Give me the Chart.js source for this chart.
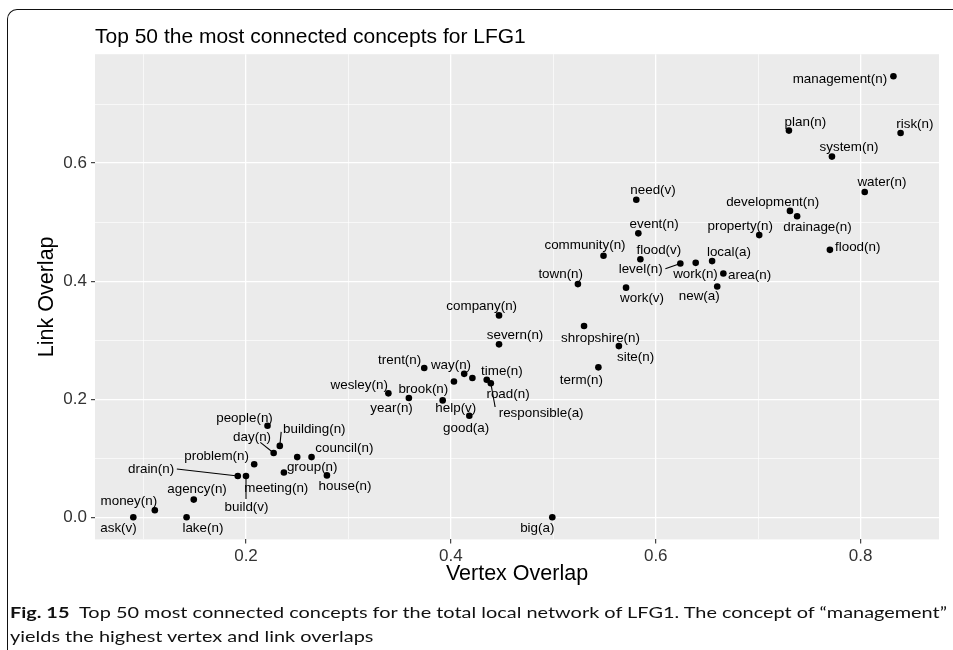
<!DOCTYPE html>
<html><head><meta charset="utf-8">
<script src="https://cdn.jsdelivr.net/npm/chart.js@4.4.1/dist/chart.umd.min.js"></script>
<style>
html,body{margin:0;padding:0;background:#fff;width:953px;height:650px;overflow:hidden;}
#frame{position:absolute;left:7px;top:9px;width:990px;height:700px;border-left:1.6px solid #111;border-top:1.6px solid #111;border-top-left-radius:10px;box-sizing:border-box;}
#wrap{position:absolute;left:0;top:0;width:953px;height:650px;}
.cap{position:absolute;left:10px;white-space:nowrap;font-family:'Lato','Open Sans',sans-serif;font-size:16px;line-height:20px;color:#111;transform-origin:0 50%;}
</style></head><body>
<div id="frame"></div>
<div id="wrap"><canvas id="c" width="953" height="650"></canvas></div>
<div class="cap" id="cap1" style="top:602px"><b>Fig. 15</b>&nbsp;&nbsp;Top 50 most connected concepts for the total local network of LFG1. The concept of “management”</div>
<div class="cap" id="cap2" style="top:626px">yields the highest vertex and link overlaps</div>
<script>
// ---- data ----
const concepts = ['management(n)','plan(n)','risk(n)','system(n)','water(n)','development(n)','drainage(n)','property(n)','flood(n)','local(a)','area(n)','work(n)','new(a)','level(n)','flood(v)','event(n)','need(v)','community(n)','town(n)','work(v)','shropshire(n)','site(n)','term(n)','company(n)','severn(n)','trent(n)','way(n)','time(n)','road(n)','responsible(a)','brook(n)','year(n)','help(v)','good(a)','wesley(n)','people(n)','building(n)','day(n)','council(n)','group(n)','problem(n)','meeting(n)','drain(n)','build(v)','house(n)','agency(n)','money(n)','ask(v)','lake(n)','big(a)'];
const vertexOverlap = [0.832,0.730,0.839,0.772,0.804,0.731,0.738,0.701,0.770,0.655,0.666,0.639,0.660,0.624,0.585,0.583,0.581,0.549,0.524,0.571,0.530,0.564,0.544,0.447,0.447,0.374,0.413,0.421,0.435,0.439,0.403,0.359,0.392,0.418,0.339,0.221,0.233,0.227,0.264,0.250,0.208,0.237,0.192,0.200,0.279,0.149,0.111,0.090,0.142,0.499];
const linkOverlap = [0.747,0.655,0.651,0.611,0.551,0.519,0.510,0.478,0.453,0.434,0.413,0.431,0.391,0.430,0.437,0.481,0.538,0.443,0.395,0.389,0.324,0.290,0.254,0.342,0.293,0.253,0.243,0.236,0.233,0.227,0.230,0.202,0.198,0.172,0.210,0.155,0.121,0.109,0.102,0.102,0.090,0.076,0.070,0.070,0.071,0.030,0.012,0.000,0.000,0.000];
const xGridValues = [0.1,0.2,0.3,0.4,0.5,0.6,0.7,0.8];
const yGridValues = [0.0,0.1,0.2,0.3,0.4,0.5,0.6,0.7];
const xTickLabels = [0.2,0.4,0.6,0.8];
const yTickLabels = [0.0,0.2,0.4,0.6];

// ---- label layout (pixel offsets of each label centre from its point) ----
const labelOffsets = {
 'management(n)':[-53.5,2.6],'plan(n)':[16.5,-8.3],'risk(n)':[14.3,-9],'system(n)':[17,-9.3],'water(n)':[17.2,-9.6],
 'development(n)':[-17.3,-8.7],'drainage(n)':[20.3,11.6],'property(n)':[-19,-8.6],'flood(n)':[27.8,-2.7],'local(a)':[16.8,-8.7],
 'area(n)':[26.2,2.3],'work(n)':[-0.2,11.3],'new(a)':[-18,10],'level(n)':[-39.7,6.3],'flood(v)':[18.5,-9],
 'event(n)':[15.8,-9.4],'need(v)':[16.7,-9],'community(n)':[-18.5,-10],'town(n)':[-17.2,-10],'work(v)':[16,10.3],
 'shropshire(n)':[16.5,12.3],'site(n)':[16.7,11.3],'term(n)':[-17,12.7],'company(n)':[-17.3,-9],'severn(n)':[16,-8.7],
 'trent(n)':[-24.6,-8],'way(n)':[-13.2,-8.7],'time(n)':[29.5,-6.3],'road(n)':[21.3,15],'responsible(a)':[50.3,30],
 'brook(n)':[-30.6,7.6],'year(n)':[-17.3,10],'help(v)':[13.1,7.6],'good(a)':[-3.2,12.6],'wesley(n)':[-29.2,-8.3],
 'people(n)':[-23,-7.7],'building(n)':[34.5,-16.7],'day(n)':[-21.6,-15.6],'council(n)':[32.8,-9],'group(n)':[15,10],
 'problem(n)':[-37.6,-8],'meeting(n)':[-7.6,16],'drain(n)':[-86.7,-6.3],'build(v)':[0.5,31],'house(n)':[18,11.4],
 'agency(n)':[3.3,-10.7],'money(n)':[-26,-8.6],'ask(v)':[-14.8,10.7],'lake(n)':[16.3,10.7],'big(a)':[-15,10.7]
};
const segmentStarts = {
 'drain(n)':[-61,-7],'build(v)':[0,23],'day(n)':[-13.3,-10.6],'building(n)':[1.4,-14],'level(n)':[-15,5.3],'responsible(a)':[4.3,23.7]
};

const FAMILY = "'Liberation Sans', Arial, Helvetica, sans-serif";
Chart.defaults.font.family = FAMILY;

const near = (a,b)=>Math.abs(a-b)<1e-9;
const isIn = (arr,v)=>arr.some(a=>near(a,v));

const panelBg = {
  id:'panelBg',
  beforeDraw(chart){
    const {ctx, chartArea:a} = chart;
    ctx.save(); ctx.fillStyle='#EBEBEB'; ctx.fillRect(a.left,a.top,a.right-a.left,a.bottom-a.top); ctx.restore();
  }
};
const conceptLabels = {
  id:'conceptLabels',
  afterDatasetsDraw(chart){
    const {ctx, scales:{x,y}} = chart;
    ctx.save();
    ctx.font = '13.4px ' + FAMILY;
    ctx.fillStyle='#000'; ctx.strokeStyle='#000'; ctx.lineWidth=1.1;
    ctx.textAlign='center'; ctx.textBaseline='middle';
    concepts.forEach((name,i)=>{
      const px = x.getPixelForValue(vertexOverlap[i]);
      const py = y.getPixelForValue(linkOverlap[i]);
      const seg = segmentStarts[name];
      if (seg){ ctx.beginPath(); ctx.moveTo(px+seg[0],py+seg[1]); ctx.lineTo(px,py); ctx.stroke(); }
      const off = labelOffsets[name];
      ctx.fillText(name, px+off[0], py+off[1]);
    });
    ctx.restore();
  }
};

new Chart(document.getElementById('c'), {
  type:'scatter',
  data:{ datasets:[{
    label:'concepts',
    data: concepts.map((c,i)=>({x:vertexOverlap[i], y:linkOverlap[i]})),
    backgroundColor:'#000', borderWidth:0, pointRadius:3.3, pointHoverRadius:3.3
  }]},
  options:{
    responsive:false, animation:false, events:[],
    layout:{ padding:{left:0,right:14,top:0,bottom:0} },
    plugins:{
      legend:{display:false}, tooltip:{enabled:false},
      title:{ display:true, text:'Top 50 the most connected concepts for LFG1', align:'start', fullSize:false,
        color:'#000', font:{size:21, weight:'normal'}, padding:{top:25,bottom:4} }
    },
    scales:{
      x:{ type:'linear', min:0.0526, max:0.8765,
        afterBuildTicks: s=>{ s.ticks = xGridValues.map(v=>({value:v})); },
        afterFit: s=>{ s.height = 110.6; },
        ticks:{ autoSkip:false, maxRotation:0, padding:3, color:'#333', font:{size:17},
          callback: v => isIn(xTickLabels,v) ? v.toFixed(1) : '' },
        grid:{ color:'#fff', lineWidth: c => isIn(xTickLabels,c.tick.value) ? 1.3 : 0.65,
          drawTicks:true, tickLength:4, tickWidth:1.1,
          tickColor: c => isIn(xTickLabels,c.tick.value) ? '#333' : 'rgba(0,0,0,0)' },
        border:{display:false},
        title:{ display:true, text:'Vertex Overlap', color:'#000', font:{size:21.5}, padding:{top:0,bottom:63} }
      },
      y:{ type:'linear', min:-0.0374, max:0.7844,
        afterBuildTicks: s=>{ s.ticks = yGridValues.map(v=>({value:v})); },
        afterFit: s=>{ s.width = 95; },
        ticks:{ autoSkip:false, padding:4, color:'#333', font:{size:17},
          callback: v => isIn(yTickLabels,v) ? v.toFixed(1) : '' },
        grid:{ color:'#fff', lineWidth: c => isIn(yTickLabels,c.tick.value) ? 1.3 : 0.65,
          drawTicks:true, tickLength:4, tickWidth:1.1,
          tickColor: c => isIn(yTickLabels,c.tick.value) ? '#333' : 'rgba(0,0,0,0)' },
        border:{display:false},
        title:{ display:true, text:'Link Overlap', color:'#000', font:{size:21.5}, padding:{top:34,bottom:0} }
      }
    }
  },
  plugins:[panelBg, conceptLabels]
});

function fitCaption(){
  const c1=document.getElementById('cap1'), c2=document.getElementById('cap2');
  c1.style.transform=''; c2.style.transform='';
  const k = 937 / c1.getBoundingClientRect().width;
  c1.style.transform = 'scaleX('+k+')'; c2.style.transform = 'scaleX('+k+')';
}
fitCaption();
if (document.fonts && document.fonts.ready) document.fonts.ready.then(fitCaption);
</script>
</body></html>
